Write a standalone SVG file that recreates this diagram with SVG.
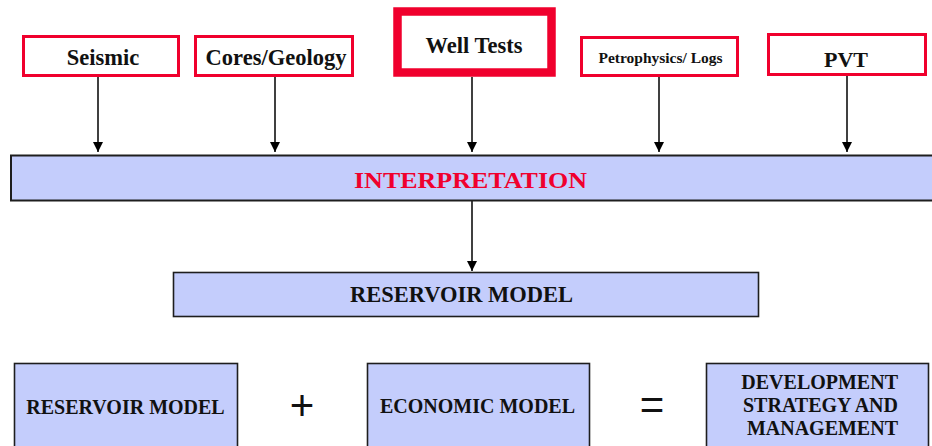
<svg xmlns="http://www.w3.org/2000/svg" width="932" height="446" viewBox="0 0 932 446">
<style>
.src{fill:#ffffff;stroke:#f0002d;stroke-width:3}
.blue{fill:#c4cdfc;stroke:#1e1e1e;stroke-width:1.6}
.t{font-family:'Liberation Serif','DejaVu Serif',serif;font-weight:bold;fill:#111;text-anchor:middle}
.conn line{stroke:#000;stroke-width:1.5;marker-end:url(#ah)}
</style>
<defs>
<marker id="ah" markerUnits="userSpaceOnUse" markerWidth="10" markerHeight="10" refX="10" refY="5" orient="auto">
<path d="M0,0 L10,5 L0,10 z" fill="#000"/>
</marker>
</defs>
<rect width="932" height="446" fill="#fff"/>
<g id="connectors" class="conn">
<line x1="98" y1="77" x2="98" y2="152"/>
<line x1="275" y1="77" x2="275" y2="152"/>
<line x1="472" y1="77" x2="472" y2="152"/>
<line x1="659" y1="77" x2="659" y2="152"/>
<line x1="847" y1="76" x2="847" y2="152"/>
<line x1="472" y1="201" x2="472" y2="271"/>
</g>
<g id="seismic">
<rect class="src" x="23.5" y="36.5" width="155" height="39"/>
<text class="t" x="103" y="65" font-size="22.5">Seismic</text>
</g>
<g id="cores">
<rect class="src" x="195.5" y="36.5" width="157" height="39"/>
<text class="t" x="276" y="65" font-size="22.5">Cores/Geology</text>
</g>
<g id="welltests">
<rect class="src" x="397.5" y="11.5" width="154" height="61" style="stroke-width:8.5"/>
<text class="t" x="474" y="53" font-size="22.5">Well Tests</text>
</g>
<g id="petro">
<rect class="src" x="581.5" y="37.5" width="156" height="38"/>
<text class="t" x="660.5" y="63" font-size="15.5">Petrophysics/ Logs</text>
</g>
<g id="pvt">
<rect class="src" x="768.5" y="34.5" width="157" height="40"/>
<text class="t" x="846" y="67" font-size="22">PVT</text>
</g>
<g id="interpretation">
<rect class="blue" x="11" y="155.5" width="930" height="45" style="stroke-width:2"/>
<text class="t" x="470.5" y="188" font-size="24" textLength="233" lengthAdjust="spacingAndGlyphs" style="fill:#f0002d">INTERPRETATION</text>
</g>
<g id="reservoir-model">
<rect class="blue" x="173.5" y="272.5" width="585" height="44"/>
<text class="t" x="461.5" y="302" font-size="22.5">RESERVOIR MODEL</text>
</g>
<g id="reservoir-model-2">
<rect class="blue" x="14.5" y="363.5" width="223" height="95"/>
<text class="t" x="125.5" y="414" font-size="20">RESERVOIR MODEL</text>
</g>
<text x="302" y="420" font-family="'Liberation Sans', sans-serif" font-size="42" text-anchor="middle" fill="#111">+</text>
<g id="economic-model">
<rect class="blue" x="367.5" y="363.5" width="222" height="95"/>
<text class="t" x="477.5" y="413" font-size="20">ECONOMIC MODEL</text>
</g>
<text x="652" y="419" font-family="'Liberation Sans', sans-serif" font-size="42" text-anchor="middle" fill="#111">=</text>
<g id="development">
<rect class="blue" x="706.5" y="363.5" width="222" height="95"/>
<text class="t" font-size="20" style="text-anchor:end"><tspan x="898" y="389">DEVELOPMENT</tspan><tspan x="898" y="412">STRATEGY AND</tspan><tspan x="898" y="435">MANAGEMENT</tspan></text>
</g>
</svg>
